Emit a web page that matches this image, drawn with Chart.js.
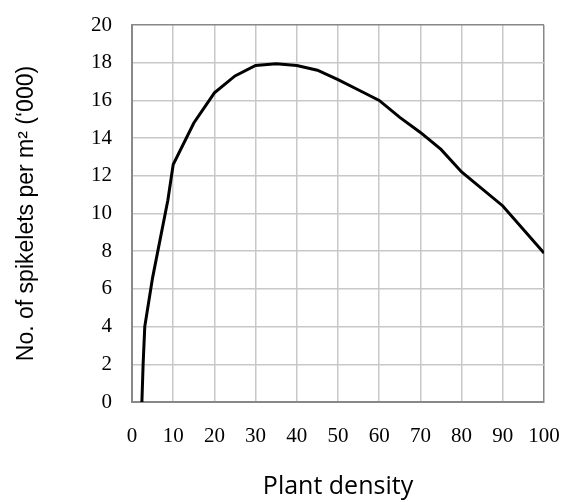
<!DOCTYPE html>
<html>
<head>
    <title>Spikelets vs plant density</title>
    <script src="https://cdn.jsdelivr.net/npm/chart.js"></script>
    <style>
        body { margin: 0; background: #fff; }
        #wrap { width: 564px; height: 502px; }
    </style>
</head>
<body>
    <div id="wrap"><canvas id="grafica"></canvas></div>
    <script>
        // datos
        const densidad = [2.4, 2.7, 3.1, 5, 8.7, 10, 15, 20, 25, 30, 35, 40, 45, 50, 55, 60, 65, 70, 75, 80, 90, 100];
        const espiguillas = [0, 2, 4, 6.6, 10.7, 12.6, 14.8, 16.4, 17.3, 17.85, 17.95, 17.85, 17.6, 17.1, 16.55, 16.0, 15.1, 14.3, 13.4, 12.2, 10.4, 7.9];
        const ticksX = [0, 10, 20, 30, 40, 50, 60, 70, 80, 90, 100];
        const ticksY = [0, 2, 4, 6, 8, 10, 12, 14, 16, 18, 20];

        const puntos = densidad.map((x, i) => ({ x: x, y: espiguillas[i] }));
        const fuenteTicks = { family: 'Liberation Serif', size: 21 };

        new Chart(document.getElementById('grafica'), {
            type: 'line',
            data: {
                datasets: [{
                    data: puntos,
                    borderColor: '#000',
                    borderWidth: 3,
                    pointRadius: 0,
                    tension: 0,
                    fill: false
                }]
            },
            options: {
                responsive: true,
                maintainAspectRatio: false,
                animation: false,
                layout: { padding: { top: 25, right: 20, left: 0, bottom: 0 } },
                plugins: { legend: { display: false }, tooltip: { enabled: false } },
                scales: {
                    x: {
                        type: 'linear',
                        min: 0,
                        max: 100,
                        afterBuildTicks: axis => { axis.ticks = ticksX.map(v => ({ value: v })); },
                        afterFit: axis => {
                            axis.height = 100;
                            axis.paddingLeft = 0;
                            axis.paddingRight = 0;
                        },
                        grid: {
                            drawTicks: false,
                            lineWidth: 1.5,
                            color: ctx => ctx.tick && ctx.tick.value === 100 ? '#888' : '#c8c8c8'
                        },
                        border: { color: '#888', width: 2 },
                        ticks: { color: '#000', font: fuenteTicks, padding: 22, maxRotation: 0 },
                        title: {
                            display: true,
                            text: 'Plant density',
                            color: '#000',
                            font: { family: 'Open Sans', size: 25 },
                            padding: { top: 0, bottom: 0 }
                        }
                    },
                    y: {
                        min: 0,
                        max: 20,
                        afterBuildTicks: axis => { axis.ticks = ticksY.map(v => ({ value: v })); },
                        afterFit: axis => {
                            axis.width = 132;
                            axis.paddingTop = 0;
                            axis.paddingBottom = 0;
                        },
                        grid: {
                            drawTicks: false,
                            lineWidth: 1.5,
                            color: ctx => ctx.tick && ctx.tick.value === 20 ? '#888' : '#c8c8c8'
                        },
                        border: { color: '#888', width: 2 },
                        ticks: { color: '#000', font: fuenteTicks, padding: 20 },
                        title: {
                            display: true,
                            text: 'No. of spikelets per m² (‘000)',
                            color: '#000',
                            font: { family: 'Liberation Sans', size: 23 },
                            padding: { top: 13, bottom: 0 }
                        }
                    }
                }
            }
        });
    </script>
</body>
</html>
